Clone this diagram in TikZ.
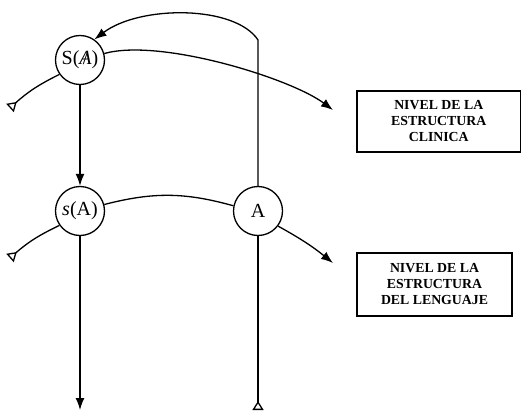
\documentclass[tikz,border=0pt]{standalone}
\usepackage{fontspec}
\setmainfont{Liberation Serif}
\usetikzlibrary{arrows.meta,positioning}
\begin{document}
\begin{tikzpicture}[
    x=1pt, y=1pt,
    point/.style={draw, circle, line width=1.3pt, minimum size=49pt, inner sep=0pt, font=\fontsize{20}{20}\selectfont},
    level/.style={draw, line width=1.2pt, align=center, inner sep=0pt, font=\fontsize{13.8}{16}\selectfont\bfseries},
    arrow/.style={-{Latex[length=12pt,width=9pt]}, line width=1.3pt},
    tail/.style={{Triangle[open,reversed,length=9pt,width=11pt]}-, line width=1.3pt}
]
\useasboundingbox (0,0) rectangle (521,413);

\node[point] (SA) at (80,353) {S(\ooalign{\itshape A\cr\hidewidth/\hidewidth\cr})};
\node[point] (sA) at (80,202) {\textit{s}(A)};
\node[point] (A) at (258,202) {A};

\node[level, minimum width=163.5pt, minimum height=61pt] (clinica) at (438.75,291.5) {NIVEL DE LA\\ESTRUCTURA\\CLINICA};
\node[level, minimum width=155pt, minimum height=63pt] (lenguaje) at (434.5,128.5) {NIVEL DE LA\\ESTRUCTURA\\DEL LENGUAJE};

\coordinate (turn) at (258,373);
\coordinate (clinEnd) at (333,303);
\coordinate (lengEnd) at (333,150);
\coordinate (tailS) at (10,305);
\coordinate (tails) at (10,155);
\coordinate (tailA) at (258,3);
\coordinate (down) at (80,3);

\draw[arrow] (SA) -- (sA);
\draw[arrow] (A.north) -- (turn) .. controls (235,408) and (140,408) .. (SA.55);
\draw[arrow] (SA.15) .. controls (160,375) and (290,335) .. (clinEnd);
\draw[tail] (tailS) to[bend left=8] (SA.215);
\draw[line width=1.3pt] (sA.15) to[bend left=15] (A.168);
\draw[arrow] (A.-37) to[bend left=5] (lengEnd);
\draw[tail] (tails) to[bend left=8] (sA.215);
\draw[arrow] (sA) -- (down);
\draw[tail] (tailA) -- (A);
\end{tikzpicture}
\end{document}
